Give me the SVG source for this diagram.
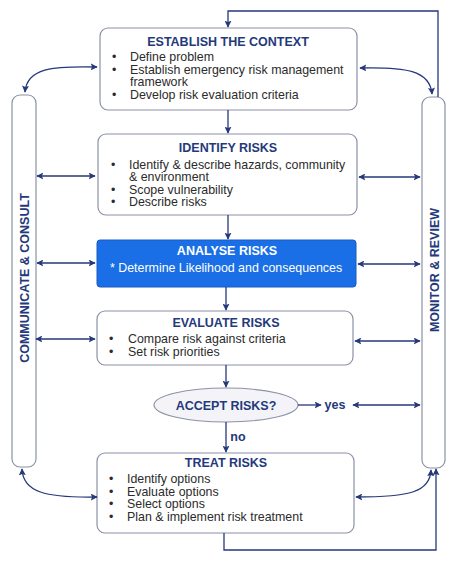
<svg xmlns="http://www.w3.org/2000/svg" width="458" height="561" viewBox="0 0 458 561">
<defs>
<marker id="ah" viewBox="0 0 10 10" refX="9" refY="5" markerWidth="7" markerHeight="7" markerUnits="userSpaceOnUse" orient="auto-start-reverse">
<path d="M0,0 L10,5 L0,10 L2,5 Z" fill="#26397a"/>
</marker>
<style>
.box{fill:#fff;stroke:#8b92a6;stroke-width:1.2}
.pil{fill:#fff;stroke:#8b92a6;stroke-width:1.2}
.t{font-family:"Liberation Sans",Arial,sans-serif;font-weight:bold;font-size:12.5px;fill:#24397c;text-anchor:middle}
.b{font-family:"Liberation Sans",Arial,sans-serif;font-size:12.4px;fill:#2b2b2b}
.c{fill:none;stroke:#26397a;stroke-width:1.3}
.a{marker-end:url(#ah)}
.aa{marker-start:url(#ah);marker-end:url(#ah)}
</style>
</defs>
<rect width="458" height="561" fill="#fff"/>

<g id="communicate">
<rect class="pil" x="12" y="95" width="24" height="372" rx="8"/>
<text class="t" transform="translate(28.5,278) rotate(-90)">COMMUNICATE &amp; CONSULT</text>
</g>
<g id="monitor">
<rect class="pil" x="422" y="97" width="23" height="371" rx="8"/>
<text class="t" transform="translate(438.5,270) rotate(-90)">MONITOR &amp; REVIEW</text>
</g>

<g id="context">
<rect class="box" x="100" y="28" width="257" height="82" rx="8"/>
<text class="t" x="228" y="46">ESTABLISH THE CONTEXT</text>
<text class="b" x="112" y="61">•</text><text class="b" x="130" y="61">Define problem</text>
<text class="b" x="112" y="74">•</text><text class="b" x="130" y="74">Establish emergency risk management</text>
<text class="b" x="130" y="86">framework</text>
<text class="b" x="112" y="99">•</text><text class="b" x="130" y="99">Develop risk evaluation criteria</text>
</g>

<g id="identify">
<rect class="box" x="98" y="134" width="259" height="81" rx="8"/>
<text class="t" x="228" y="152">IDENTIFY RISKS</text>
<text class="b" x="111" y="169">•</text><text class="b" x="129" y="169">Identify &amp; describe hazards, community</text>
<text class="b" x="129" y="181">&amp; environment</text>
<text class="b" x="111" y="194">•</text><text class="b" x="129" y="194">Scope vulnerability</text>
<text class="b" x="111" y="206">•</text><text class="b" x="129" y="206">Describe risks</text>
</g>

<g id="analyse">
<rect x="97" y="240" width="259" height="47" rx="3" fill="#1a6fe6" stroke="#1a5bc4" stroke-width="1"/>
<text class="t" x="227" y="255" style="fill:#fff">ANALYSE RISKS</text>
<text class="b" x="110" y="272" style="fill:#fff">*  Determine Likelihood and consequences</text>
</g>

<g id="evaluate">
<rect class="box" x="97" y="311" width="256" height="54" rx="8"/>
<text class="t" x="226" y="327">EVALUATE RISKS</text>
<text class="b" x="109" y="343">•</text><text class="b" x="128" y="343">Compare risk against criteria</text>
<text class="b" x="109" y="356">•</text><text class="b" x="128" y="356">Set risk priorities</text>
</g>

<g id="accept">
<ellipse cx="226" cy="405" rx="72" ry="17" fill="#f4f4f8" stroke="#8b92a6" stroke-width="1.2"/>
<text class="t" x="226" y="410">ACCEPT RISKS?</text>
</g>

<g id="treat">
<rect class="box" x="97" y="453" width="257" height="80" rx="8"/>
<text class="t" x="226" y="467">TREAT RISKS</text>
<text class="b" x="109" y="483">•</text><text class="b" x="127" y="483">Identify options</text>
<text class="b" x="109" y="496">•</text><text class="b" x="127" y="496">Evaluate options</text>
<text class="b" x="109" y="508">•</text><text class="b" x="127" y="508">Select options</text>
<text class="b" x="109" y="521">•</text><text class="b" x="127" y="521">Plan &amp; implement risk treatment</text>
</g>

<g id="connectors">
<path class="c a" d="M438,97 V11 H228 V27"/>
<path class="c a" d="M228,110 V133"/>
<path class="c a" d="M228,215 V239"/>
<path class="c a" d="M226,287 V310"/>
<path class="c a" d="M226,365 V387"/>
<path class="c a" d="M226,422 V452"/>
<path class="c a" d="M298,405 H321"/>
<path class="c a" d="M224,533 V550 H436 V469"/>
<path class="c aa" d="M97,67 C52,66 27,68 25,92"/>
<path class="c aa" d="M360,68 C405,67 430,70 432,94"/>
<path class="c aa" d="M97,497 C45,498 23,492 22,469"/>
<path class="c aa" d="M356,497 C410,497 430,492 431,470"/>
<path class="c aa" d="M37,176 H95"/>
<path class="c aa" d="M359,177 H420"/>
<path class="c aa" d="M37,263 H95"/>
<path class="c aa" d="M358,264 H420"/>
<path class="c aa" d="M36,339 H95"/>
<path class="c aa" d="M355,341 H420"/>
<path class="c aa" d="M353,405 H420"/>
<text class="t" x="335" y="409">yes</text>
<text class="t" x="238" y="441">no</text>
</g>
</svg>
